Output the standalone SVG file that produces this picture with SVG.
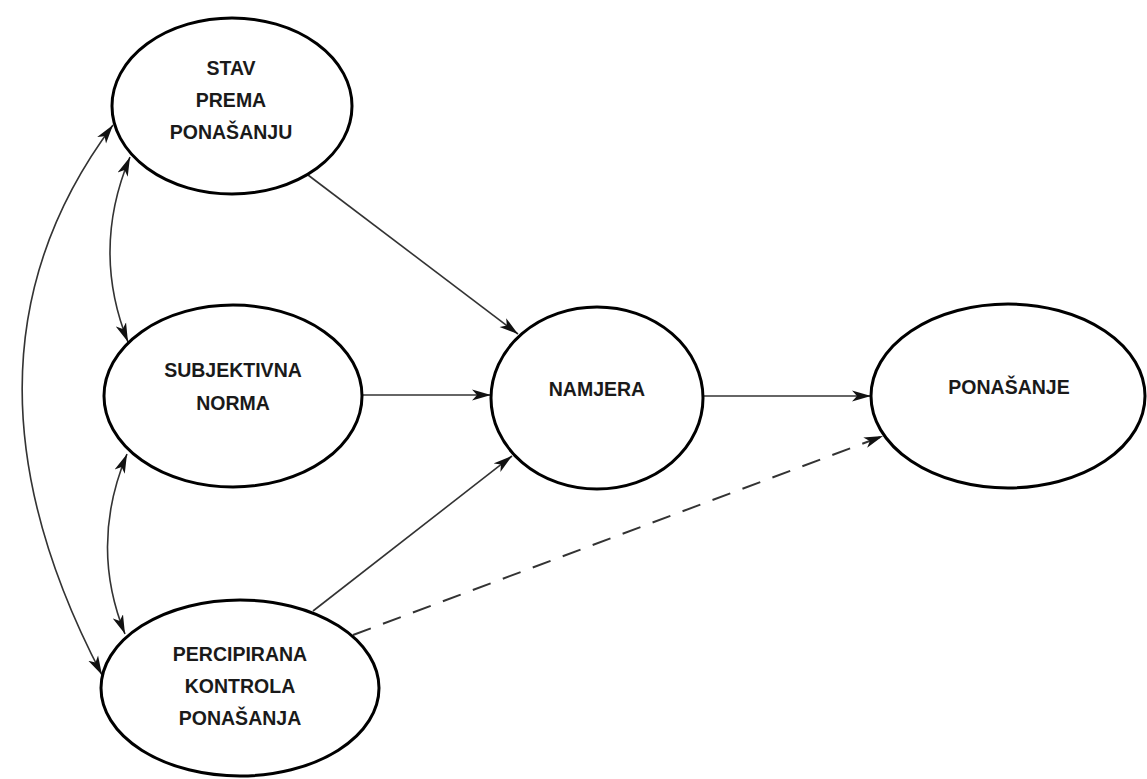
<svg xmlns="http://www.w3.org/2000/svg" width="1147" height="779" viewBox="0 0 1147 779">
<style>
.node ellipse{fill:#fff;stroke:#000;stroke-width:3}
.node text{font-family:"Liberation Sans",Arial,sans-serif;font-weight:bold;font-size:19.5px;fill:#1a1a1a;text-anchor:middle}
.conn path{fill:none;stroke:#333;stroke-width:1.6}
.conn .dash{stroke-dasharray:19 13;stroke-width:2}
</style>
<defs>
<marker id="ah" markerUnits="userSpaceOnUse" markerWidth="20" markerHeight="12" refX="19" refY="6" orient="auto-start-reverse">
<path d="M0,0.5 L19,6 L0,11.5 L5,6 Z" fill="#111"/>
</marker>
</defs>
<rect width="1147" height="779" fill="#fff"/>
<g id="connectors" class="conn">
<path d="M308,175 L518,334" marker-end="url(#ah)"/>
<path d="M362,395 L491,395" marker-end="url(#ah)"/>
<path d="M313,611 L512,456" marker-end="url(#ah)"/>
<path d="M703,396 L871,396" marker-end="url(#ah)"/>
<path class="dash" d="M353,635 L883,436" marker-end="url(#ah)"/>
<path d="M130,157 Q91,250 128,342" marker-start="url(#ah)" marker-end="url(#ah)"/>
<path d="M127,454 Q89,545 125,634" marker-start="url(#ah)" marker-end="url(#ah)"/>
<path d="M113,125 Q-63,360 102,675" marker-start="url(#ah)" marker-end="url(#ah)"/>
</g>
<g id="stav" class="node">
<ellipse cx="232" cy="106" rx="120" ry="88"/>
<text x="231" y="75">STAV</text>
<text x="231" y="107">PREMA</text>
<text x="231" y="139">PONAŠANJU</text>
</g>
<g id="subjektivna" class="node">
<ellipse cx="233" cy="396" rx="129" ry="91"/>
<text x="233" y="377">SUBJEKTIVNA</text>
<text x="233" y="410">NORMA</text>
</g>
<g id="percipirana" class="node">
<ellipse cx="240" cy="688" rx="139" ry="88"/>
<text x="240" y="661">PERCIPIRANA</text>
<text x="240" y="693">KONTROLA</text>
<text x="240" y="725">PONAŠANJA</text>
</g>
<g id="namjera" class="node">
<ellipse cx="597" cy="398" rx="106" ry="91"/>
<text x="597" y="396">NAMJERA</text>
</g>
<g id="ponasanje" class="node">
<ellipse cx="1008" cy="396" rx="137" ry="92"/>
<text x="1009" y="394">PONAŠANJE</text>
</g>
</svg>
